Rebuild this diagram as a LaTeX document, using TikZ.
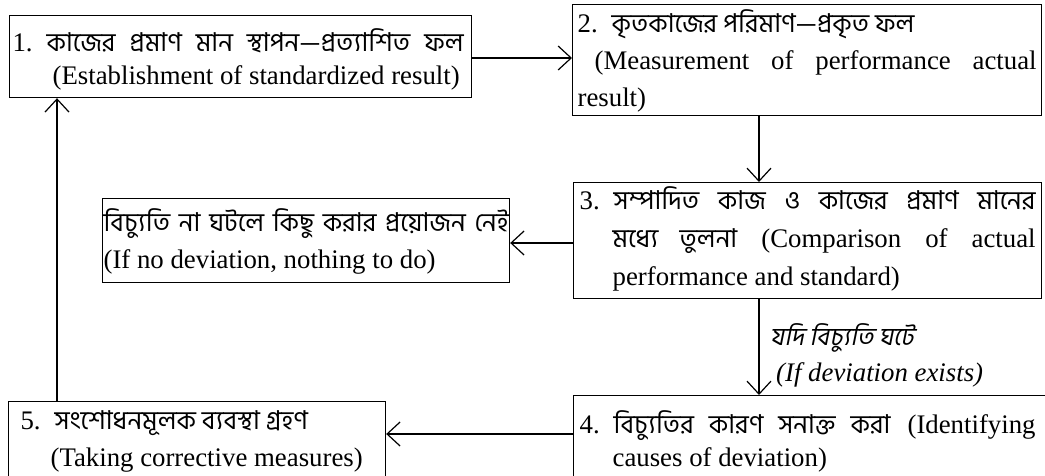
\documentclass[tikz,border=0pt]{standalone}
\usepackage{fontspec}
\setmainfont{Liberation Serif}
\newfontfamily\bn[Script=Bengali,Scale=0.97]{Hind Siliguri}
\newfontfamily\bnit[Script=Bengali,Scale=0.93,FakeSlant=0.2]{Hind Siliguri}
\usetikzlibrary{arrows.meta}
\newcommand\B[1]{{\bn #1}}
\newcommand\num[1]{#1\hspace{14pt}}
% width height left right first-baseline baselineskip text
\newcommand\boxtext[7]{\parbox[c][#2][t]{#1}{\fontsize{26.8pt}{#6}\selectfont\lineskiplimit=-100pt\lineskip=0pt\leftskip=#3\rightskip=#4\parindent=0pt\rule{0pt}{#5}#7}}
\tikzset{
  box/.style={draw, line width=1.2pt, inner sep=0pt, anchor=north west},
  arr/.style={line width=1.2pt, -{Straight Barb[length=13pt,width=24pt,line width=1.2pt]}},
  lbl/.style={inner sep=0pt, anchor=base west},
}
\begin{document}
\begin{tikzpicture}[x=1pt,y=1pt]
\useasboundingbox (0,0) rectangle (1045,-476);
\node[box] (b1) at (9,-15) {\boxtext{462pt}{82pt}{3pt}{8pt}{36pt}{33pt}{\num{1.}\B{কাজের প্রমাণ মান স্থাপন—প্রত্যাশিত ফল}\linebreak\hspace*{40pt}(Establishment of standardized result)}};
\node[box] (b2) at (572,-4) {\boxtext{469pt}{111pt}{5pt}{5pt}{28pt}{37pt}{\num{2.}\B{কৃতকাজের পরিমাণ—প্রকৃত ফল}\\\hspace*{17pt}(Measurement of performance actual\linebreak result)}};
\node[box] (b3) at (573,-182) {\boxtext{468pt}{116pt}{6pt}{6pt}{27pt}{38pt}{\num{3.}\B{সম্পাদিত কাজ ও কাজের প্রমাণ মানের}\linebreak\hspace*{33pt}\B{মধ্যে তুলনা} (Comparison of actual\linebreak\hspace*{33pt}performance and standard)}};
\node[box] (nd) at (102,-198) {\boxtext{407pt}{84pt}{1pt}{1pt}{33pt}{37pt}{\B{বিচ্যুতি না ঘটলে কিছু করার প্রয়োজন নেই}\linebreak (If no deviation, nothing to do)}};
\node[box] (b4) at (573,-395) {\boxtext{480pt}{100pt}{6pt}{18pt}{38pt}{33pt}{\num{4.}\B{বিচ্যুতির কারণ সনাক্ত করা} (Identifying\linebreak\hspace*{33pt}causes of deviation)}};
\node[box] (b5) at (8,-401) {\boxtext{377pt}{100pt}{12pt}{6pt}{28pt}{37pt}{\num{5.}\B{সংশোধনমূলক ব্যবস্থা গ্রহণ}\\\hspace*{30pt}(Taking corrective measures)}};
\node[lbl] (dev) at (770,-345) {\parbox[t]{270pt}{\fontsize{26.8pt}{36pt}\selectfont\lineskiplimit=-100pt{\bnit যদি বিচ্যুতি ঘটে}\\\hspace*{6pt}\itshape (If deviation exists)}};
\coordinate (cx) at (759,0);
\coordinate (cl) at (57,0);
\coordinate (ya) at (0,-58);
\coordinate (yb) at (0,-243);
\coordinate (yc) at (0,-434);
\draw[arr] (b1.east |- ya) -- (b2.west |- ya);
\draw[arr] (b2.south -| cx) -- (b3.north -| cx);
\draw[arr] (b3.west |- yb) -- (nd.east |- yb);
\draw[arr] (b3.south -| cx) -- (b4.north -| cx);
\draw[arr] (b4.west |- yc) -- (b5.east |- yc);
\draw[arr] (b5.north -| cl) -- (b1.south -| cl);
\end{tikzpicture}
\end{document}
